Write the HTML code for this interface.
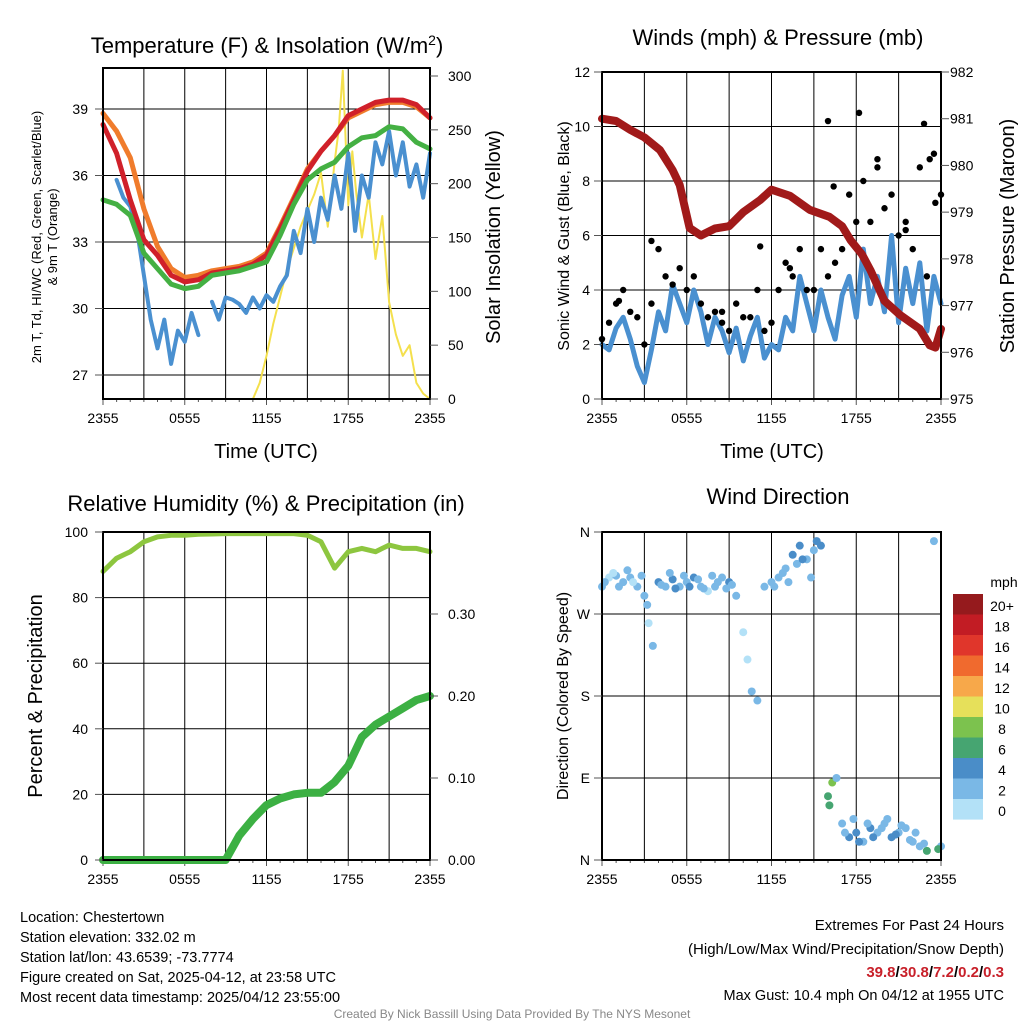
<!DOCTYPE html>
<html><head><meta charset="utf-8"><style>
body{margin:0;background:#fff}
svg{display:block;font-family:"Liberation Sans",sans-serif}
</style></head><body>
<svg id="c" width="1024" height="1024" viewBox="0 0 1024 1024"></svg>
<script>
// ---- Data ----
const hoursHourly=[0,1,2,3,4,5,6,7,8,9,10,11,12,13,14,15,16,17,18,19,20,21,22,23,24];
const tempRed=[38.3,37.0,34.9,33.1,32.4,31.5,31.2,31.3,31.6,31.7,31.8,32.0,32.4,33.6,34.9,36.2,37.1,37.8,38.7,39.0,39.3,39.4,39.4,39.2,38.6];
const tempOrange=[38.8,38.0,36.8,34.5,32.8,31.8,31.4,31.5,31.7,31.8,31.9,32.1,32.5,33.7,35.0,36.3,37.1,37.8,38.6,38.9,39.2,39.3,39.3,39.1,38.6];
const tempGreen=[34.9,34.7,34.2,32.5,31.8,31.1,30.9,31.0,31.5,31.6,31.7,31.9,32.1,33.3,34.7,35.8,36.3,36.6,37.3,37.7,37.8,38.2,38.1,37.5,37.2];
const hoursHalf=[0,0.5,1,1.5,2,2.5,3,3.5,4,4.5,5,5.5,6,6.5,7,7.5,8,8.5,9,9.5,10,10.5,11,11.5,12,12.5,13,13.5,14,14.5,15,15.5,16,16.5,17,17.5,18,18.5,19,19.5,20,20.5,21,21.5,22,22.5,23,23.5,24];
const tempBlue=[null,null,35.8,35.0,34.6,33.5,31.5,29.5,28.2,29.5,27.5,29.0,28.5,29.8,28.8,null,30.3,29.5,30.5,30.4,30.2,29.8,30.5,30.0,30.6,30.3,31.0,31.5,33.5,32.5,34.5,33.0,35.0,34.0,36.0,34.5,37.0,33.5,36.0,35.0,37.5,36.5,38.0,36.0,37.5,35.5,36.5,35.0,37.0];
const solarHours=[0,11,11.5,12,12.5,13,13.5,14,14.5,15,15.5,16,16.5,17,17.3,17.6,18,18.3,18.6,19,19.5,20,20.5,21,21.5,22,22.5,23,23.5,24];
const solarValues=[0,0,15,40,70,95,120,140,160,175,190,210,160,220,250,305,180,230,190,150,190,130,170,90,60,40,50,15,5,0];
const windSonic=[2,1.8,2.6,3,2.2,1.2,0.6,1.8,3.2,2.5,4.2,3.5,2.8,4.0,3.2,2.0,3.0,2.5,1.7,2.6,1.4,2.3,3.0,1.5,2.0,1.8,3.0,2.5,4.5,3.5,2.5,4.0,3.0,2.2,3.8,4.5,3.0,5.5,3.5,4.5,3.2,6.0,2.8,4.8,3.5,5.0,2.5,4.5,3.5];
const windGust=[2.2,2.8,3.5,4.0,3.2,3.0,2.0,3.5,5.5,4.5,4.2,4.8,4.0,4.5,3.5,3.0,3.2,2.8,2.5,3.5,3.0,3.0,4.0,2.5,2.8,4.0,5.0,4.5,5.5,4.0,4.0,5.5,4.5,5.0,5.5,7.5,6.5,8.0,6.5,8.5,7.0,7.5,6.0,6.5,5.5,8.5,4.5,9.0,7.5];
const gustExtraHours=[1.2,3.5,8.5,11.2,13.3,16.0,16.4,18.2,19.5,21.5,22.8,23.2,23.6];
const gustExtraValues=[3.6,5.8,3.2,5.6,4.8,10.2,7.8,10.5,8.8,6.2,10.1,8.8,7.2];
const pressHours=[0,1,2,3,4.1,5,5.5,6.2,7,8,9,10,11.2,12,13.3,14.7,16.1,17,17.6,18.4,19,20,21.1,22.5,23.2,23.6,24];
const pressValues=[981.0,980.95,980.76,980.6,980.33,979.9,979.58,978.66,978.5,978.65,978.7,979.0,979.26,979.48,979.35,979.05,978.9,978.7,978.4,978.1,977.76,977.1,976.8,976.5,976.15,976.1,976.5];
const rhValues=[88,92,94,97,98.5,99,99,99.3,99.4,99.5,99.5,99.5,99.5,99.5,99.5,99,97,89,94,95,94,96,95,95,94];
const precipValues=[0,0,0,0,0,0,0,0,0,0,0.03,0.05,0.067,0.075,0.08,0.082,0.082,0.095,0.115,0.15,0.165,0.175,0.185,0.195,0.2];
const dirHours=[0,0.5,1,1.5,2,2.5,3,3.3,3.6,4,4.5,5,5.5,6,6.5,7,7.5,8,8.5,9,9.5,10,10.3,10.6,11,11.5,12,12.5,13,13.5,14,14.5,15,15.5,16,16.3,16.6,17,17.5,18,18.5,19,19.5,20,20.5,21,21.5,22,22.5,23,23.5,24];
const dirValues=[300,310,312,305,310,300,290,260,235,305,300,308,300,305,310,300,295,300,310,305,290,250,220,185,175,300,305,310,320,335,345,330,340,345,70,85,90,40,25,30,20,35,30,40,25,30,35,20,15,10,350,15];
const dirSpeeds=[2,1,3,2,3,2,2,1,2,4,3,4,3,2,4,3,1,3,2,4,2,1,1,2,2,2,3,2,3,4,5,3,2,4,7,8,3,2,4,5,3,4,2,3,5,2,3,2,3,6,2,2];
const dirHours2=[0.2,0.8,1.2,1.8,2.2,2.8,3.2,4.2,4.8,5.2,5.8,6.2,6.8,7.2,7.8,8.2,8.8,9.2,12.2,12.8,13.2,13.8,14.2,14.8,15.2,16.1,17.2,17.8,18.2,18.8,19.2,19.8,20.2,20.8,21.2,21.8,22.2,22.8,23.8];
const dirValues2=[305,315,300,318,305,312,280,302,315,298,312,300,308,298,312,305,298,302,300,315,305,325,330,310,350,60,30,45,20,40,25,35,45,28,38,22,30,18,12];
const dirSpeeds2=[2,1,3,2,1,2,2,3,2,4,3,4,3,2,3,2,3,2,2,3,2,3,4,2,4,6,3,2,4,3,5,3,2,4,2,3,2,3,7];
const timeTicks=["2355","0555","1155","1755","2355"];
const tempTicks=[27,30,33,36,39];
const solarTicks=[0,50,100,150,200,250,300];
const windTicks=[0,2,4,6,8,10,12];
const pressTicks=[975,976,977,978,979,980,981,982];
const rhTicks=[0,20,40,60,80,100];
const precipTicks=[0,0.1,0.2,0.3];
const dirTicks=["N","E","S","W","N"];
const cbLabels=["20+","18","16","14","12","10","8","6","4","2","0"];
const cbColors=["#951a1d","#c21c24","#e0362b","#f06a2e","#f7a84a","#e6e05a","#7cc24e","#46a571","#4a8dc8","#7ab8e6","#b3e1f7"];

const S=document.getElementById('c'),NS='http://www.w3.org/2000/svg';
function mk(tag,attrs,parent){const e=document.createElementNS(NS,tag);for(const k in attrs)e.setAttribute(k,attrs[k]);(parent||S).appendChild(e);return e;}
function txt(x,y,s,size,anchor,extra){const e=mk('text',Object.assign({x:x,y:y,'font-size':size,'text-anchor':anchor||'middle',fill:'#000'},extra||{}));e.textContent=s;return e;}
function lin(d,a){const s=[a[0],a[1]];return v=>s[0]+(v-d[0])/(d[1]-d[0])*(s[1]-s[0]);}
function pathFrom(xs,ys,fx,fy){let d='',pen=false;for(let i=0;i<xs.length;i++){if(ys[i]==null){pen=false;continue;}d+=(pen?'L':'M')+fx(xs[i]).toFixed(1)+','+fy(ys[i]).toFixed(1);pen=true;}return d;}

function frame(x0,x1,y0,y1,name){
  const g=mk('g',{});
  
  
  const fx=lin([0,24],[x0,x1]);
  for(let h=3;h<24;h+=3){mk('line',{x1:fx(h),x2:fx(h),y1:y0,y2:y1,stroke:'#000','stroke-width':1},g);}
  for(let h=0;h<=24;h++){mk('line',{x1:fx(h),x2:fx(h),y1:y1,y2:y1+(h%6==0?6:3),stroke:'#555','stroke-width':1},g);}
  timeTicks.forEach((t,i)=>{const e=txt(fx(i*6),y1+24,t,14);});
  return {g,fx};
}
function border(x0,x1,y0,y1){const r=mk('rect',{x:x0,y:y0,width:x1-x0,height:y1-y0,fill:'none',stroke:'#000','stroke-width':2});}
function hgrid(fy,vals,x0,x1,skipEnds,y0,y1){vals.forEach(v=>{const y=fy(v);if(Math.abs(y-y0)<2||Math.abs(y-y1)<2)return;const l=mk('line',{x1:x0,x2:x1,y1:y,y2:y,stroke:'#000','stroke-width':1});});}
function ylabelsL(fy,vals,x,fmt,x0){vals.forEach(v=>{const e=txt(x,fy(v)+5,fmt?fmt(v):String(v),14,'end');mk('line',{x1:x0-8,x2:x0,y1:fy(v),y2:fy(v),stroke:'#555'});});}
function ylabelsR(fy,vals,x,fmt,x1){vals.forEach(v=>{const e=txt(x,fy(v)+5,fmt?fmt(v):String(v),14,'start');mk('line',{x1:x1,x2:x1+8,y1:fy(v),y2:fy(v),stroke:'#555'});});}
function rot(x,y,s,size,name){const e=txt(x,y,s,size,'middle',{transform:`rotate(-90 ${x} ${y})`});return e;}
function line(d,color,w,name){const p=mk('path',{d:d,fill:'none',stroke:color,'stroke-width':w,'stroke-linejoin':'round','stroke-linecap':'round'});}

// ---- Panel 1 ----
{const X0=103,X1=430,Y0=68,Y1=399;
 const {fx}=frame(X0,X1,Y0,Y1,'temperature-panel');
 const fy=lin([27,39],[375,109]);const fs=lin([0,300],[399,76]);
 hgrid(fy,tempTicks,X0,X1,true,Y0,Y1);
 line(pathFrom(solarHours,solarValues,fx,fs),'#f4e04d',2,'solar-insolation-line');
 line(pathFrom(hoursHalf,tempBlue,fx,fy),'#4a90d0',4,'wind-chill-line');
 line(pathFrom(hoursHourly,tempOrange,fx,fy),'#f07c2c',5,'temp-9m-line');
 line(pathFrom(hoursHourly,tempRed,fx,fy),'#d0202a',5,'temp-2m-line');
 line(pathFrom(hoursHourly,tempGreen,fx,fy),'#44b043',5,'dewpoint-line');
 border(X0,X1,Y0,Y1);
 ylabelsL(fy,tempTicks,88,null,X0);ylabelsR(fs,solarTicks,448,null,X1);
 const t=txt(267,53,'',22);t.innerHTML='Temperature (F) &amp; Insolation (W/m<tspan dy="-8" font-size="14">2</tspan><tspan dy="8">)</tspan>';
 
 const xl=txt(266,458,'Time (UTC)',20);
 rot(41,237,'2m T, Td, HI/WC (Red, Green, Scarlet/Blue)',13,'temp-y-axis-title');
 rot(57,237,'& 9m T (Orange)',13,'temp-y-axis-title-2');
 rot(500,237,'Solar Insolation (Yellow)',20,'solar-y-axis-title');
}
// ---- Panel 2 ----
{const X0=602,X1=941,Y0=72,Y1=399;
 const {fx}=frame(X0,X1,Y0,Y1,'winds-panel');
 const fy=lin([0,12],[399,72]);const fp=lin([975,982],[399,72]);
 hgrid(fy,windTicks,X0,X1,true,Y0,Y1);
 line(pathFrom(hoursHalf,windSonic,fx,fy),'#4a90d0',5,'sonic-wind-line');
 windGust.forEach((v,i)=>{const c=mk('circle',{cx:fx(hoursHalf[i]),cy:fy(v),r:3.2,fill:'#000'});});
 gustExtraValues.forEach((v,i)=>{const c=mk('circle',{cx:fx(gustExtraHours[i]),cy:fy(v),r:3.2,fill:'#000'});});
 line(pathFrom(pressHours,pressValues,fx,fp),'#a11a1a',8,'pressure-line');
 border(X0,X1,Y0,Y1);
 ylabelsL(fy,windTicks,590,null,X0);ylabelsR(fp,pressTicks,950,null,X1);
 const t=txt(778,45,'Winds (mph) & Pressure (mb)',22);
 const xl=txt(772,458,'Time (UTC)',20);
 rot(569,236,'Sonic Wind & Gust (Blue, Black)',16,'wind-y-axis-title');
 rot(1014,236,'Station Pressure (Maroon)',20,'pressure-y-axis-title');
}
// ---- Panel 3 ----
{const X0=103,X1=430,Y0=532,Y1=860;
 const {fx}=frame(X0,X1,Y0,Y1,'humidity-panel');
 const fy=lin([0,100],[860,532]);const fpr=lin([0,0.3],[860,614]);
 hgrid(fy,rhTicks,X0,X1,true,Y0,Y1);
 line(pathFrom(hoursHourly,rhValues,fx,fy),'#8dc63f',5,'humidity-line');
 line(pathFrom(hoursHourly,precipValues,fx,fpr),'#3cb043',8,'precip-line');
 border(X0,X1,Y0,Y1);
 ylabelsL(fy,rhTicks,88,null,X0);ylabelsR(fpr,precipTicks,448,v=>v.toFixed(2),X1);
 const t=txt(266,511,'Relative Humidity (%) & Precipitation (in)',22);
 rot(42,696,'Percent & Precipitation',20,'humidity-y-axis-title');
}
// ---- Panel 4 ----
{const X0=602,X1=941,Y0=532,Y1=860;
 const {fx}=frame(X0,X1,Y0,Y1,'wind-direction-panel');
 const fy=lin([0,360],[860,532]);
 hgrid(fy,[90,180,270],X0,X1,true,Y0,Y1);
 const drawDir=(hs,vs,sp)=>vs.forEach((v,i)=>{const b=Math.min(10,Math.floor(sp[i]/2));const c=mk('circle',{cx:fx(hs[i]),cy:fy(v),r:4,fill:cbColors[10-b]});});
 drawDir(dirHours,dirValues,dirSpeeds);
 drawDir(dirHours2,dirValues2,dirSpeeds2);
 border(X0,X1,Y0,Y1);
 dirTicks.forEach((s,i)=>{const y=fy(i*90);const e=txt(590,y+5,s,14,'end');mk('line',{x1:X0-8,x2:X0,y1:y,y2:y,stroke:'#555'});});
 const t=txt(778,504,'Wind Direction',22);
 rot(568,696,'Direction (Colored By Speed)',16,'direction-y-axis-title');
 const cb=mk('g',{});
 cbColors.forEach((c,i)=>{const r=mk('rect',{x:953,y:594+i*20.5,width:30,height:20.6,fill:c},cb);
   const e=txt(1002,611+i*20.5,cbLabels[i],14,'middle');});
 const m=txt(1004,587,'mph',14);
}
// ---- Footer text ----
['Location: Chestertown','Station elevation: 332.02 m','Station lat/lon: 43.6539; -73.7774','Figure created on Sat, 2025-04-12, at 23:58 UTC','Most recent data timestamp: 2025/04/12 23:55:00'].forEach((s,i)=>{const e=txt(20,922+i*20,s,14.5,'start');});
{let e=txt(1004,930,'Extremes For Past 24 Hours',15,'end');
 e=txt(1004,954,'(High/Low/Max Wind/Precipitation/Snow Depth)',15,'end');
 e=txt(1004,977,'',15,'end',{'font-weight':'bold',fill:'#c8202a'});e.innerHTML='39.8<tspan fill="#000">/</tspan>30.8<tspan fill="#000">/</tspan>7.2<tspan fill="#000">/</tspan>0.2<tspan fill="#000">/</tspan>0.3';
 
 e=txt(1004,1000,'Max Gust: 10.4 mph On 04/12 at 1955 UTC',14.5,'end');
 e=txt(512,1018,'Created By Nick Bassill Using Data Provided By The NYS Mesonet',12,'middle',{fill:'#888'});}
</script>
</body></html>
